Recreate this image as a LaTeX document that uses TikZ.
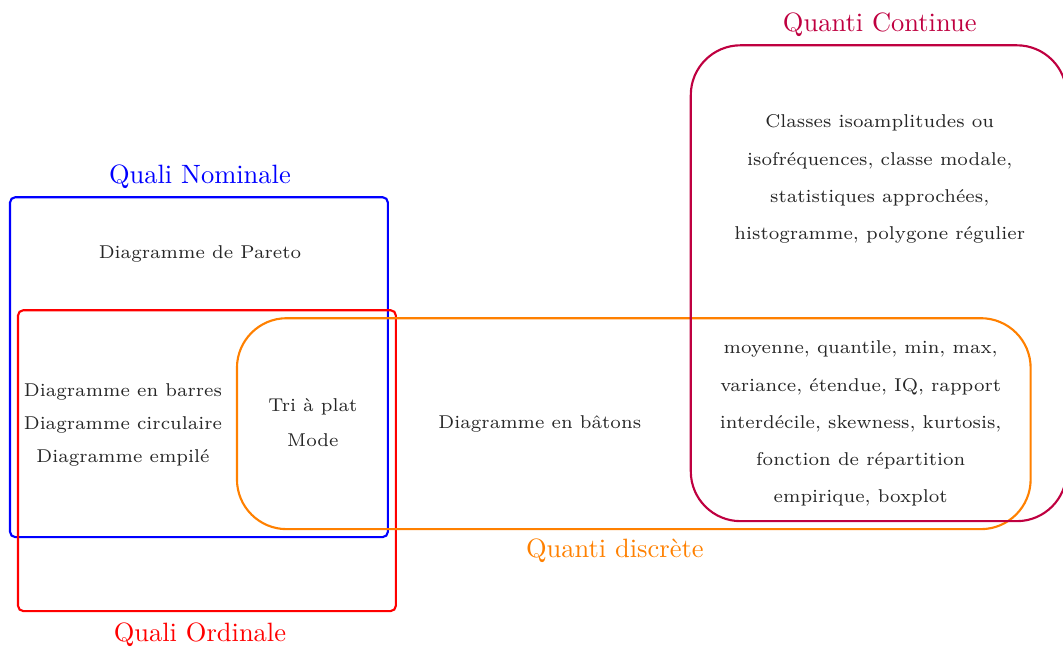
\documentclass[tikz,border=0pt]{standalone}
\usepackage{tikz}

\begin{document}
\begin{tikzpicture}[
    zone/.style={thick, rounded corners=2pt},
    blob/.style={thick, rounded corners=0.66cm},
    tag/.style={font=\normalsize},
    txt/.style={font=\scriptsize\linespread{1.76}\selectfont, align=center, text=black!85}]
  \useasboundingbox (0,0) rectangle (14.10,8.61);
  % The four sets.
  \draw[zone, blue] (0.133,1.485) rectangle (5.145,5.994);
  \draw[zone, red] (0.239,0.504) rectangle (5.251,4.495);
  \draw[blob, orange] (3.143,1.591) rectangle (13.671,4.389);
  \draw[blob, purple] (9.163,1.697) rectangle (14.148,8.009);
  % Their names.
  \node[tag, blue] (nominale) at (2.652,6.272) {Quali Nominale};
  \node[tag, red] (ordinale) at (2.652,0.185) {Quali Ordinale};
  \node[tag, orange] (discrete) at (8.155,1.299) {Quanti discrète};
  \node[tag, purple] (continue) at (11.669,8.287) {Quanti Continue};
  % What goes in each part.
  \node[txt] (pareto) at (2.652,5.237) {Diagramme de Pareto};
  \node[txt, font=\scriptsize\linespread{1.56}\selectfont] (barres) at (1.631,2.977)
    {Diagramme en barres\\Diagramme circulaire\\Diagramme empilé};
  \node[txt, font=\scriptsize\linespread{1.65}\selectfont] (triplat) at (4.150,3.010)
    {Tri à plat\\Mode};
  \node[txt] (batons) at (7.160,2.983) {Diagramme en bâtons};
  \node[txt] (classes) at (11.669,6.232)
    {Classes isoamplitudes ou\\isofréquences, classe modale,\\statistiques approchées,\\histogramme, polygone régulier};
  \node[txt] (resume) at (11.417,2.990)
    {moyenne, quantile, min, max,\\variance, étendue, IQ, rapport\\interdécile, skewness, kurtosis,\\fonction de répartition\\empirique, boxplot};
\end{tikzpicture}
\end{document}
